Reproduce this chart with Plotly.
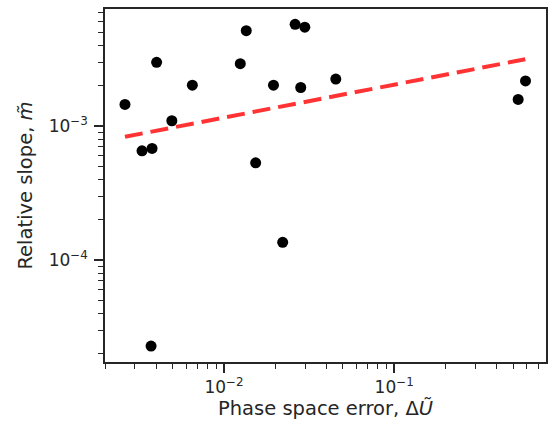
import plotly.graph_objects as go
import numpy as np

# Data
phase_error = [0.00262, 0.00330, 0.00378, 0.00402, 0.00494, 0.00652, 0.01247, 0.01352,
               0.01535, 0.01954, 0.02213, 0.02618, 0.02825, 0.02985, 0.0454, 0.535, 0.591,
               0.00373]
rel_slope = [1.45e-3, 6.54e-4, 6.82e-4, 2.99e-3, 1.096e-3, 2.02e-3, 2.92e-3, 5.14e-3,
             5.32e-4, 2.02e-3, 1.36e-4, 5.74e-3, 1.94e-3, 5.46e-3, 2.24e-3, 1.58e-3, 2.17e-3,
             2.29e-5]
fit_x = [0.00262, 0.589]
fit_y = [8.32e-4, 3.15e-3]

x_major = [1e-2, 1e-1]
y_major = [1e-4, 1e-3]
x_minor = [m * 10.0 ** e for e in (-3, -2, -1) for m in range(2, 10)]
y_minor = [m * 10.0 ** e for e in (-5, -4, -3) for m in range(2, 10)]

dark = "#262626"
font = "DejaVu Sans"

fig = go.Figure()
fig.add_trace(go.Scatter(
    x=phase_error, y=rel_slope, mode="markers",
    marker=dict(size=11, color="black", line=dict(width=0)),
    showlegend=False, hoverinfo="skip"))
fig.add_trace(go.Scatter(
    x=fit_x, y=fit_y, mode="lines",
    line=dict(color="rgba(255,0,0,0.8)", width=4, dash="18px,8px"),
    showlegend=False, hoverinfo="skip"))

axis_common = dict(
    type="log", showgrid=False, zeroline=False,
    showline=True, linecolor=dark, linewidth=1.5, mirror=True,
    ticks="outside", ticklen=9, tickwidth=1.5, tickcolor=dark,
    exponentformat="power", tickfont=dict(family=font, size=17, color=dark),
)

fig.update_xaxes(
    **axis_common,
    range=[np.log10(0.002), -0.108],
    tickmode="array", tickvals=x_major, ticktext=["10<sup>−2</sup>", "10<sup>−1</sup>"],
    minor=dict(tickmode="array", tickvals=x_minor, ticks="outside", ticklen=5,
               tickwidth=1, tickcolor=dark),
    title=dict(text="Phase space error, Δ<i>Ũ</i>", font=dict(family=font, size=19.5, color=dark),
               standoff=5),
)
fig.update_yaxes(
    **axis_common,
    range=[-4.759, -2.127],
    ticklabelstandoff=3,
    tickmode="array", tickvals=y_major, ticktext=["10<sup>−4</sup>", "10<sup>−3</sup>"],
    minor=dict(tickmode="array", tickvals=y_minor, ticks="outside", ticklen=5,
               tickwidth=1, tickcolor=dark),
    title=dict(text="Relative slope, <i>m̃</i>", font=dict(family=font, size=19.5, color=dark),
               standoff=11),
)

fig.update_layout(
    width=551, height=428,
    margin=dict(l=105, r=5, t=9, b=66, autoexpand=False),
    plot_bgcolor="white", paper_bgcolor="white",
    font=dict(family=font, color=dark),
)

fig.write_html("out.html")
